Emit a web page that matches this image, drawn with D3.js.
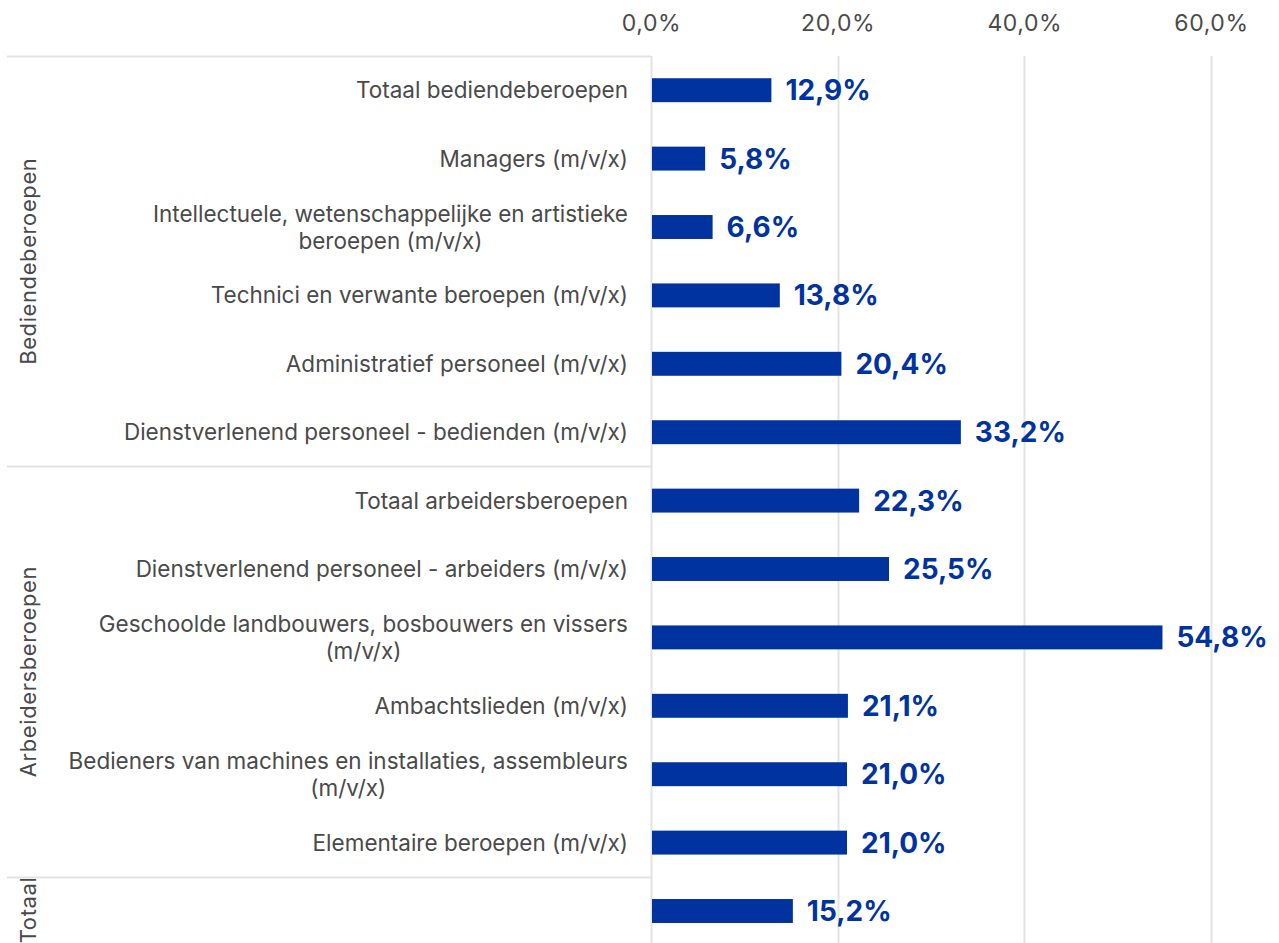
<!DOCTYPE html>
<html>
<head>
<meta charset="utf-8">
<title>Beroepen</title>
<style>
	body{ margin:0; background:#fff; }
	svg{ display:block; font-family:Inter, Roboto, sans-serif; }
</style>
</head>
<body>
<div id="chart"></div>
<script src="https://cdnjs.cloudflare.com/ajax/libs/d3/7.8.5/d3.min.js"></script>
<script type="text/javascript">

var categories = [
	["Totaal bediendeberoepen"],
	["Managers (m/v/x)"],
	["Intellectuele, wetenschappelijke en artistieke", "beroepen (m/v/x)"],
	["Technici en verwante beroepen (m/v/x)"],
	["Administratief personeel (m/v/x)"],
	["Dienstverlenend personeel - bedienden (m/v/x)"],
	["Totaal arbeidersberoepen"],
	["Dienstverlenend personeel - arbeiders (m/v/x)"],
	["Geschoolde landbouwers, bosbouwers en vissers", "(m/v/x)"],
	["Ambachtslieden (m/v/x)"],
	["Bedieners van machines en installaties, assembleurs", "(m/v/x)"],
	["Elementaire beroepen (m/v/x)"],
	[""]
];
var values = [12.9, 5.8, 6.6, 13.8, 20.4, 33.2, 22.3, 25.5, 54.8, 21.1, 21.0, 21.0, 15.2];
var groups = ["Bediendeberoepen", "Arbeidersberoepen", "Totaal"];
var groupSizes = [6, 6, 1];
var ticks = [0, 20, 40, 60];

var W = 1279, H = 943,
	x0 = 651, topY = 56, labRight = 628,
	blue = '#0033a0', grid = '#e3e3e3', txt = '#4a4a4a';

var svg = d3.select('#chart').append('svg').attr('width', W).attr('height', H);

var x = d3.scaleLinear().domain([0, 60]).range([x0, 1211]);
var y = d3.scaleBand().domain(d3.range(values.length)).range([topY, topY + 68.4 * values.length]).paddingInner(0.65).paddingOuter(0.325);

var fmt = function(d){ return d3.format('.1f')(d).replace('.', ',') + '%'; };

// grid lines
svg.append('g').selectAll('line').data(ticks).join('line')
	.attr('x1', function(d){ return Math.round(x(d)) + 0.5; })
	.attr('x2', function(d){ return Math.round(x(d)) + 0.5; })
	.attr('y1', topY).attr('y2', H)
	.style('stroke', grid).style('stroke-width', 2);

// top axis
var axis = svg.append('g').attr('transform', 'translate(0,' + (topY - 22) + ')')
	.call(d3.axisTop(x).tickValues(ticks).tickFormat(fmt).tickSize(0));
axis.select('.domain').remove();
axis.selectAll('text').style('font-size', '23px').style('letter-spacing', '0.6px').style('fill', txt).attr('font-family', 'Inter, Roboto, sans-serif');

// group separators and labels
var start = 0;
groups.forEach(function(g, i){
	var yTop = y(start) - y.step() * y.paddingInner() / 2;
	var yBot = y(start + groupSizes[i] - 1) + y.bandwidth() + y.step() * y.paddingInner() / 2;
	svg.append('line')
		.attr('x1', 7).attr('x2', x0)
		.attr('y1', Math.round(yTop) + 0.5).attr('y2', Math.round(yTop) + 0.5)
		.style('stroke', grid).style('stroke-width', 2);
	svg.append('text')
		.attr('transform', 'translate(36,' + ((yTop + Math.min(yBot, H)) / 2) + ') rotate(-90)')
		.attr('text-anchor', 'middle')
		.style('font-size', '22px').style('letter-spacing', '0.6px').style('fill', txt)
		.text(g);
	start += groupSizes[i];
});

// category labels: block right aligned, lines centred within it
var lab = svg.append('g').selectAll('text').data(categories).join('text')
	.attr('text-anchor', 'middle')
	.style('font-size', '22.5px').style('fill', txt)
	.attr('y', function(d, i){ return y(i) + y.bandwidth() / 2 + 8 - (d.length - 1) * 13.5; });
lab.each(function(d){
	var t = d3.select(this);
	var spans = t.selectAll('tspan').data(d).join('tspan')
		.attr('dy', function(s, j){ return j ? 27 : 0; })
		.text(function(s){ return s; });
	var w = d3.max(spans.nodes(), function(n){ return n.getComputedTextLength(); }) || 0;
	spans.attr('x', labRight - w / 2);
});

// bars
svg.append('g').selectAll('rect').data(values).join('rect')
	.attr('x', x(0) + 1)
	.attr('y', function(d, i){ return y(i); })
	.attr('width', function(d){ return x(d) - x(0) - 1; })
	.attr('height', y.bandwidth())
	.style('fill', blue);

// value labels
svg.append('g').selectAll('text').data(values).join('text')
	.attr('x', function(d){ return x(d) + 14; })
	.attr('y', function(d, i){ return y(i) + y.bandwidth() / 2 + 10; })
	.style('font-size', '28px').style('font-weight', 'bold').style('fill', blue)
	.text(fmt);

</script>
</body>
</html>
